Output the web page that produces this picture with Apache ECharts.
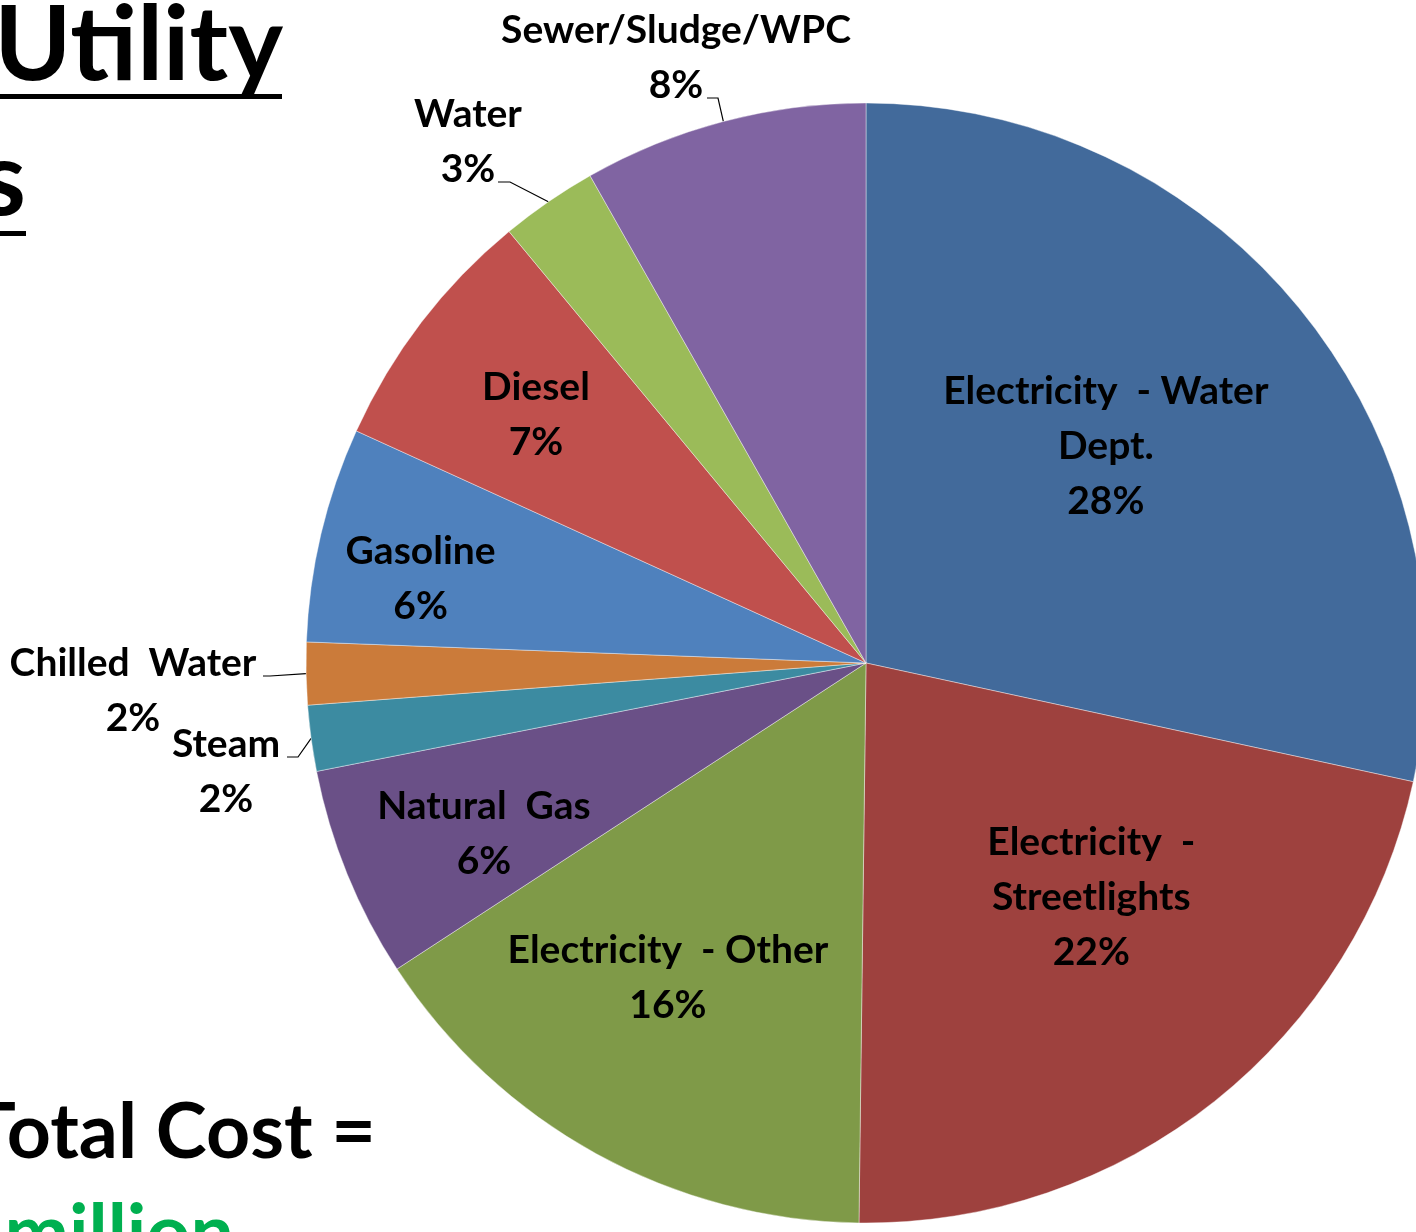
<!DOCTYPE html>
<html>
<head>
<meta charset="utf-8">
<script src="https://cdn.jsdelivr.net/npm/echarts@6/dist/echarts.min.js"></script>
<style>
  html, body { margin: 0; padding: 0; background: #fff; }
  #chart { width: 1416px; height: 1232px; }
</style>
</head>
<body>
<div id="chart"></div>
<script>
// data
const categories = ['Electricity - Water Dept.', 'Electricity - Streetlights', 'Electricity - Other', 'Natural Gas', 'Steam', 'Chilled Water', 'Gasoline', 'Diesel', 'Water', 'Sewer/Sludge/WPC'];
const shares = [28.4, 21.8, 15.6, 6.1, 1.9, 1.8, 6.2, 7.2, 2.8, 8.2];
const labelNames = ['Electricity  - Water\nDept.', 'Electricity  -\nStreetlights', 'Electricity  - Other', 'Natural  Gas', 'Steam', 'Chilled  Water', 'Gasoline', 'Diesel', 'Water', 'Sewer/Sludge/WPC'];

// styles
const sliceColors = ['#426A9B', '#9E413E', '#7F9A48', '#6A5087', '#3C8BA1', '#CB7B3A', '#4F81BD', '#C0504D', '#9BBB59', '#8064A2'];
const CX = 866, CY = 663, R = 560;
// inside labels: distance from centre as a fraction of the radius, plus a small nudge
const insideRadius = [0.58, 0.58, 0.66, 0.75, null, null, 0.81, 0.74, null, null];
const insideNudge = [[-13, -13], [23, -20], [-20, -9], [7, 13], null, null, [-4, 20], [-1, 4], null, null];
// outside labels: label centre, leader elbow, leader end
const outsideLabels = {
  4: { pos: [226, 772], elbow: [298, 757], end: [287, 757] },
  5: { pos: [133, 691], elbow: [270, 676], end: [263, 676] },
  8: { pos: [468, 142], elbow: [510, 182], end: [498, 182] },
  9: { pos: [676, 58], elbow: [718, 98], end: [707, 98] }
};

const chart = echarts.init(document.getElementById('chart'));

const pieData = categories.map((name, i) => {
  const outside = !!outsideLabels[i];
  return {
    name: name,
    value: shares[i],
    itemStyle: { color: sliceColors[i] },
    label: { position: outside ? 'outside' : 'inside' },
    labelLine: { show: outside }
  };
});

const option = {
  animation: false,
  backgroundColor: '#ffffff',
  graphic: [
    { type: 'text', style: { text: 'Utility', x: 283, y: 46, align: 'right', verticalAlign: 'middle', font: 'bold 104px Lato', fill: '#000' } },
    { type: 'rect', shape: { x: 0, y: 94, width: 282, height: 5 }, style: { fill: '#000' } },
    { type: 'text', style: { text: 's', x: 26, y: 181, align: 'right', verticalAlign: 'middle', font: 'bold 104px Lato', fill: '#000' } },
    { type: 'rect', shape: { x: 0, y: 231, width: 26, height: 5 }, style: { fill: '#000' } },
    { type: 'text', style: { text: 'Total Cost =', x: 376, y: 1133, align: 'right', verticalAlign: 'middle', font: 'bold 77px Lato', fill: '#000' } },
    { type: 'text', style: { text: 'million', x: 234, y: 1234, align: 'right', verticalAlign: 'middle', font: 'bold 77px Lato', fill: '#00B050' } }
  ],
  series: [
    {
      type: 'pie',
      center: [CX, CY],
      radius: R,
      startAngle: 90,
      clockwise: true,
      avoidLabelOverlap: false,
      data: pieData,
      itemStyle: {
        borderColor: 'rgba(255,255,255,0.4)',
        borderWidth: 1
      },
      label: {
        show: true,
        color: '#000',
        fontFamily: 'Lato',
        fontWeight: 'bold',
        fontSize: 39,
        lineHeight: 55,
        align: 'center',
        formatter: function (params) {
          return labelNames[params.dataIndex] + '\n' + Math.round(params.percent) + '%';
        }
      },
      labelLine: {
        length: 10,
        length2: 10,
        lineStyle: { color: '#000', width: 1.2 }
      },
      labelLayout: function (params) {
        const i = params.dataIndex;
        const out = outsideLabels[i];
        if (out) {
          const pts = params.labelLinePoints;
          return {
            x: out.pos[0],
            y: out.pos[1],
            align: 'center',
            verticalAlign: 'middle',
            labelLinePoints: [pts[0], out.elbow, out.end]
          };
        }
        const rc = params.labelRect;
        const mx = rc.x + rc.width / 2 - CX;
        const my = rc.y + rc.height / 2 - CY;
        const len = Math.sqrt(mx * mx + my * my) || 1;
        const k = insideRadius[i] * R;
        return {
          x: CX + mx / len * k + insideNudge[i][0],
          y: CY + my / len * k + insideNudge[i][1],
          align: 'center',
          verticalAlign: 'middle'
        };
      }
    }
  ]
};

chart.setOption(option);
</script>
</body>
</html>
